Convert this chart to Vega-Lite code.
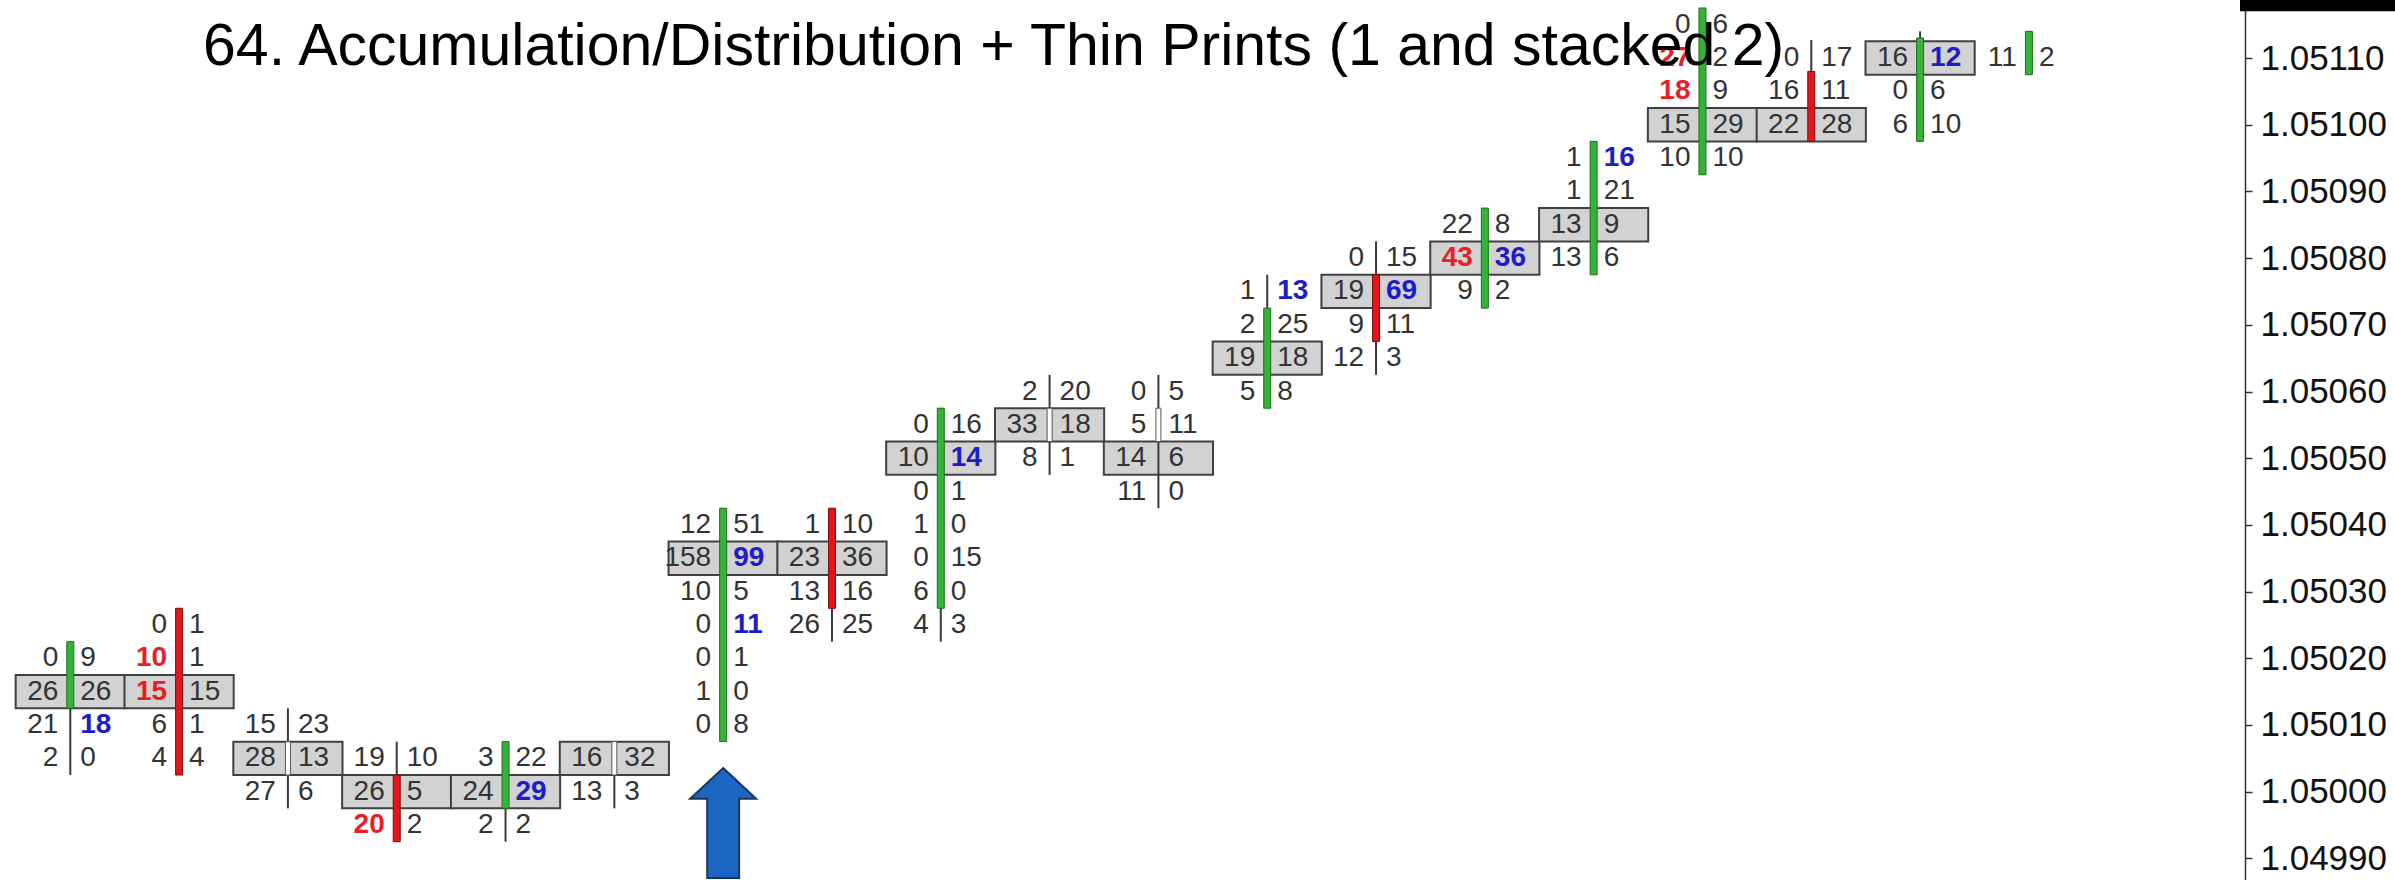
{
 "$schema": "https://vega.github.io/schema/vega-lite/v6.json",
 "width": 2245, "height": 880,
 "autosize": "none",
 "padding": {"left": 0, "top": 0, "right": 150, "bottom": 0},
 "background": "white",
 "config": {"view": {"stroke": null}},
 "title": {"text": "64. Accumulation/Distribution + Thin Prints (1 and stacked 2)", "anchor": "start", "frame": "group", "offset": -64, "dx": 203, "dy": 89, "baseline": "alphabetic", "font": "Liberation Sans", "fontSize": 59, "fontWeight": "normal", "color": "#000000"},
 "datasets": {
  "cells": [
   {"c":1,"p":1.0502,"lv":0,"rv":9,"ls":"n","rs":"n","box":0},
   {"c":1,"p":1.05015,"lv":26,"rv":26,"ls":"n","rs":"n","box":1},
   {"c":1,"p":1.0501,"lv":21,"rv":18,"ls":"n","rs":"b","box":0},
   {"c":1,"p":1.05005,"lv":2,"rv":0,"ls":"n","rs":"n","box":0},
   {"c":2,"p":1.05025,"lv":0,"rv":1,"ls":"n","rs":"n","box":0},
   {"c":2,"p":1.0502,"lv":10,"rv":1,"ls":"r","rs":"n","box":0},
   {"c":2,"p":1.05015,"lv":15,"rv":15,"ls":"r","rs":"n","box":1},
   {"c":2,"p":1.0501,"lv":6,"rv":1,"ls":"n","rs":"n","box":0},
   {"c":2,"p":1.05005,"lv":4,"rv":4,"ls":"n","rs":"n","box":0},
   {"c":3,"p":1.0501,"lv":15,"rv":23,"ls":"n","rs":"n","box":0},
   {"c":3,"p":1.05005,"lv":28,"rv":13,"ls":"n","rs":"n","box":1},
   {"c":3,"p":1.05,"lv":27,"rv":6,"ls":"n","rs":"n","box":0},
   {"c":4,"p":1.05005,"lv":19,"rv":10,"ls":"n","rs":"n","box":0},
   {"c":4,"p":1.05,"lv":26,"rv":5,"ls":"n","rs":"n","box":1},
   {"c":4,"p":1.04995,"lv":20,"rv":2,"ls":"r","rs":"n","box":0},
   {"c":5,"p":1.05005,"lv":3,"rv":22,"ls":"n","rs":"n","box":0},
   {"c":5,"p":1.05,"lv":24,"rv":29,"ls":"n","rs":"b","box":1},
   {"c":5,"p":1.04995,"lv":2,"rv":2,"ls":"n","rs":"n","box":0},
   {"c":6,"p":1.05005,"lv":16,"rv":32,"ls":"n","rs":"n","box":1},
   {"c":6,"p":1.05,"lv":13,"rv":3,"ls":"n","rs":"n","box":0},
   {"c":7,"p":1.0504,"lv":12,"rv":51,"ls":"n","rs":"n","box":0},
   {"c":7,"p":1.05035,"lv":158,"rv":99,"ls":"n","rs":"b","box":1},
   {"c":7,"p":1.0503,"lv":10,"rv":5,"ls":"n","rs":"n","box":0},
   {"c":7,"p":1.05025,"lv":0,"rv":11,"ls":"n","rs":"b","box":0},
   {"c":7,"p":1.0502,"lv":0,"rv":1,"ls":"n","rs":"n","box":0},
   {"c":7,"p":1.05015,"lv":1,"rv":0,"ls":"n","rs":"n","box":0},
   {"c":7,"p":1.0501,"lv":0,"rv":8,"ls":"n","rs":"n","box":0},
   {"c":8,"p":1.0504,"lv":1,"rv":10,"ls":"n","rs":"n","box":0},
   {"c":8,"p":1.05035,"lv":23,"rv":36,"ls":"n","rs":"n","box":1},
   {"c":8,"p":1.0503,"lv":13,"rv":16,"ls":"n","rs":"n","box":0},
   {"c":8,"p":1.05025,"lv":26,"rv":25,"ls":"n","rs":"n","box":0},
   {"c":9,"p":1.05055,"lv":0,"rv":16,"ls":"n","rs":"n","box":0},
   {"c":9,"p":1.0505,"lv":10,"rv":14,"ls":"n","rs":"b","box":1},
   {"c":9,"p":1.05045,"lv":0,"rv":1,"ls":"n","rs":"n","box":0},
   {"c":9,"p":1.0504,"lv":1,"rv":0,"ls":"n","rs":"n","box":0},
   {"c":9,"p":1.05035,"lv":0,"rv":15,"ls":"n","rs":"n","box":0},
   {"c":9,"p":1.0503,"lv":6,"rv":0,"ls":"n","rs":"n","box":0},
   {"c":9,"p":1.05025,"lv":4,"rv":3,"ls":"n","rs":"n","box":0},
   {"c":10,"p":1.0506,"lv":2,"rv":20,"ls":"n","rs":"n","box":0},
   {"c":10,"p":1.05055,"lv":33,"rv":18,"ls":"n","rs":"n","box":1},
   {"c":10,"p":1.0505,"lv":8,"rv":1,"ls":"n","rs":"n","box":0},
   {"c":11,"p":1.0506,"lv":0,"rv":5,"ls":"n","rs":"n","box":0},
   {"c":11,"p":1.05055,"lv":5,"rv":11,"ls":"n","rs":"n","box":0},
   {"c":11,"p":1.0505,"lv":14,"rv":6,"ls":"n","rs":"n","box":1},
   {"c":11,"p":1.05045,"lv":11,"rv":0,"ls":"n","rs":"n","box":0},
   {"c":12,"p":1.05075,"lv":1,"rv":13,"ls":"n","rs":"b","box":0},
   {"c":12,"p":1.0507,"lv":2,"rv":25,"ls":"n","rs":"n","box":0},
   {"c":12,"p":1.05065,"lv":19,"rv":18,"ls":"n","rs":"n","box":1},
   {"c":12,"p":1.0506,"lv":5,"rv":8,"ls":"n","rs":"n","box":0},
   {"c":13,"p":1.0508,"lv":0,"rv":15,"ls":"n","rs":"n","box":0},
   {"c":13,"p":1.05075,"lv":19,"rv":69,"ls":"n","rs":"b","box":1},
   {"c":13,"p":1.0507,"lv":9,"rv":11,"ls":"n","rs":"n","box":0},
   {"c":13,"p":1.05065,"lv":12,"rv":3,"ls":"n","rs":"n","box":0},
   {"c":14,"p":1.05085,"lv":22,"rv":8,"ls":"n","rs":"n","box":0},
   {"c":14,"p":1.0508,"lv":43,"rv":36,"ls":"r","rs":"b","box":1},
   {"c":14,"p":1.05075,"lv":9,"rv":2,"ls":"n","rs":"n","box":0},
   {"c":15,"p":1.05095,"lv":1,"rv":16,"ls":"n","rs":"b","box":0},
   {"c":15,"p":1.0509,"lv":1,"rv":21,"ls":"n","rs":"n","box":0},
   {"c":15,"p":1.05085,"lv":13,"rv":9,"ls":"n","rs":"n","box":1},
   {"c":15,"p":1.0508,"lv":13,"rv":6,"ls":"n","rs":"n","box":0},
   {"c":16,"p":1.05115,"lv":0,"rv":6,"ls":"n","rs":"n","box":0},
   {"c":16,"p":1.0511,"lv":27,"rv":2,"ls":"r","rs":"n","box":0},
   {"c":16,"p":1.05105,"lv":18,"rv":9,"ls":"r","rs":"n","box":0},
   {"c":16,"p":1.051,"lv":15,"rv":29,"ls":"n","rs":"n","box":1},
   {"c":16,"p":1.05095,"lv":10,"rv":10,"ls":"n","rs":"n","box":0},
   {"c":17,"p":1.0511,"lv":0,"rv":17,"ls":"n","rs":"n","box":0},
   {"c":17,"p":1.05105,"lv":16,"rv":11,"ls":"n","rs":"n","box":0},
   {"c":17,"p":1.051,"lv":22,"rv":28,"ls":"n","rs":"n","box":1},
   {"c":18,"p":1.0511,"lv":16,"rv":12,"ls":"n","rs":"b","box":1},
   {"c":18,"p":1.05105,"lv":0,"rv":6,"ls":"n","rs":"n","box":0},
   {"c":18,"p":1.051,"lv":6,"rv":10,"ls":"n","rs":"n","box":0},
   {"c":19,"p":1.0511,"lv":11,"rv":2,"ls":"n","rs":"n","box":0}
  ],
  "wicks": [
   {"c":1,"p":1.050225,"lo":1.050025},{"c":2,"p":1.050275,"lo":1.050025},{"c":3,"p":1.050125,"lo":1.049975},
   {"c":4,"p":1.050075,"lo":1.049925},{"c":5,"p":1.050075,"lo":1.049925},{"c":6,"p":1.050075,"lo":1.049975},
   {"c":7,"p":1.050425,"lo":1.050075},{"c":8,"p":1.050425,"lo":1.050225},{"c":9,"p":1.050575,"lo":1.050225},
   {"c":10,"p":1.050625,"lo":1.050475},{"c":11,"p":1.050625,"lo":1.050425},{"c":12,"p":1.050775,"lo":1.050575},
   {"c":13,"p":1.050825,"lo":1.050625},{"c":14,"p":1.050875,"lo":1.050725},{"c":15,"p":1.050975,"lo":1.050775},
   {"c":16,"p":1.051175,"lo":1.050925},{"c":17,"p":1.051127,"lo":1.050975},{"c":18,"p":1.05114,"lo":1.050975},
   {"c":19,"p":1.05114,"lo":1.051075}
  ],
  "bodies": [
   {"c":1,"p":1.050225,"bot":1.050125,"k":"up"},{"c":2,"p":1.050275,"bot":1.050025,"k":"down"},
   {"c":3,"p":1.050075,"bot":1.050025,"k":"doji"},{"c":4,"p":1.050025,"bot":1.049925,"k":"down"},
   {"c":5,"p":1.050075,"bot":1.049975,"k":"up"},{"c":6,"p":1.050075,"bot":1.050025,"k":"doji"},
   {"c":7,"p":1.050425,"bot":1.050075,"k":"up"},{"c":8,"p":1.050425,"bot":1.050275,"k":"down"},
   {"c":9,"p":1.050575,"bot":1.050275,"k":"up"},{"c":10,"p":1.050575,"bot":1.050525,"k":"doji"},
   {"c":11,"p":1.050575,"bot":1.050525,"k":"doji"},{"c":12,"p":1.050725,"bot":1.050575,"k":"up"},
   {"c":13,"p":1.050775,"bot":1.050675,"k":"down"},{"c":14,"p":1.050875,"bot":1.050725,"k":"up"},
   {"c":15,"p":1.050975,"bot":1.050775,"k":"up"},{"c":16,"p":1.051175,"bot":1.050925,"k":"up"},
   {"c":17,"p":1.05108,"bot":1.050975,"k":"down"},{"c":18,"p":1.05113,"bot":1.050975,"k":"up"},
   {"c":19,"p":1.05114,"bot":1.051075,"k":"up"}
  ],
  "arrow": [{"c":7,"p":1.049953}],
  "marker": [{"c":20.94,"c2":22.5,"p":1.05123,"p2":1.05117,"label":"1.05120"}]
 },
 "encoding": {
  "x": {"field":"c","type":"quantitative","scale":{"domain":[0.4,20.94],"nice":false,"zero":false},"axis":null},
  "y": {"field":"p","type":"quantitative","scale":{"domain":[1.0498676,1.051187],"nice":false,"zero":false},
        "axis":{"orient":"right","title":null,"grid":false,"values":[1.0499,1.05,1.0501,1.0502,1.0503,1.0504,1.0505,1.0506,1.0507,1.0508,1.0509,1.051,1.0511],
                "format":".5f","labelFont":"Liberation Sans","labelFontSize":35,"labelColor":"#111111","labelPadding":8,"tickSize":7,"tickColor":"#333333","tickWidth":1.5,"domainColor":"#333333","domainWidth":1.5,"labelOverlap":false,"labelFlush":false,"labelBaseline":"middle"}}
 },
 "layer": [
  {"data":{"name":"cells"},"transform":[{"filter":"datum.box == 1"}],
   "mark":{"type":"point","shape":"M-1,-0.305L1,-0.305L1,0.305L-1,0.305Z","size":11925,"filled":true,"fill":"#d2d2d2","stroke":"#404040","strokeWidth":2,"opacity":1}},
  {"data":{"name":"wicks"},"mark":{"type":"rule","color":"#3a3a3a","strokeWidth":2},"encoding":{"y2":{"field":"lo"}}},
  {"data":{"name":"bodies"},"transform":[{"filter":"datum.k != 'doji'"}],
   "mark":{"type":"bar","width":7,"strokeWidth":1},
   "encoding":{"y2":{"field":"bot"},
     "fill":{"field":"k","type":"nominal","scale":{"domain":["up","down"],"range":["#36b336","#e3161c"]},"legend":null},
     "stroke":{"field":"k","type":"nominal","scale":{"domain":["up","down"],"range":["#1f6e1f","#7d0c0f"]},"legend":null}}},
  {"data":{"name":"bodies"},"transform":[{"filter":"datum.k == 'doji'"}],
   "mark":{"type":"bar","width":5,"fill":"#ffffff","stroke":"#555555","strokeWidth":1},
   "encoding":{"y2":{"field":"bot"}}},
  {"data":{"name":"cells"},"transform":[{"filter":"datum.ls == 'n'"}],
   "mark":{"type":"text","align":"right","baseline":"middle","dx":-12,"font":"Liberation Sans","fontSize":28,"fill":"#333333"},
   "encoding":{"text":{"field":"lv","type":"nominal"}}},
  {"data":{"name":"cells"},"transform":[{"filter":"datum.ls != 'n'"}],
   "mark":{"type":"text","align":"right","baseline":"middle","dx":-12,"font":"Liberation Sans","fontSize":28,"fontWeight":"bold"},
   "encoding":{"text":{"field":"lv","type":"nominal"},"color":{"field":"ls","type":"nominal","scale":{"domain":["r","b"],"range":["#ec1c24","#1c1cc8"]},"legend":null}}},
  {"data":{"name":"cells"},"transform":[{"filter":"datum.rs == 'n'"}],
   "mark":{"type":"text","align":"left","baseline":"middle","dx":10,"font":"Liberation Sans","fontSize":28,"fill":"#333333"},
   "encoding":{"text":{"field":"rv","type":"nominal"}}},
  {"data":{"name":"cells"},"transform":[{"filter":"datum.rs != 'n'"}],
   "mark":{"type":"text","align":"left","baseline":"middle","dx":10,"font":"Liberation Sans","fontSize":28,"fontWeight":"bold"},
   "encoding":{"text":{"field":"rv","type":"nominal"},"color":{"field":"rs","type":"nominal","scale":{"domain":["r","b"],"range":["#ec1c24","#1c1cc8"]},"legend":null}}},
  {"data":{"name":"arrow"},
   "mark":{"type":"point","shape":"M0,-1L0.6,-0.44L0.29,-0.44L0.29,1L-0.29,1L-0.29,-0.44L-0.6,-0.44Z","size":12100,"filled":true,"fill":"#1a66c2","stroke":"#1d3557","strokeWidth":2,"opacity":1}},
  {"data":{"name":"marker"},
   "mark":{"type":"rect","fill":"#000000","clip":false},
   "encoding":{"x2":{"field":"c2"},"y2":{"field":"p2"}}},
  {"data":{"name":"marker"},
   "mark":{"type":"text","align":"left","baseline":"middle","font":"Liberation Sans","fontSize":35,"fontWeight":"bold","fill":"#ffffff","dx":16,"dy":18},
   "encoding":{"text":{"field":"label","type":"nominal"}}}
 ]
}
